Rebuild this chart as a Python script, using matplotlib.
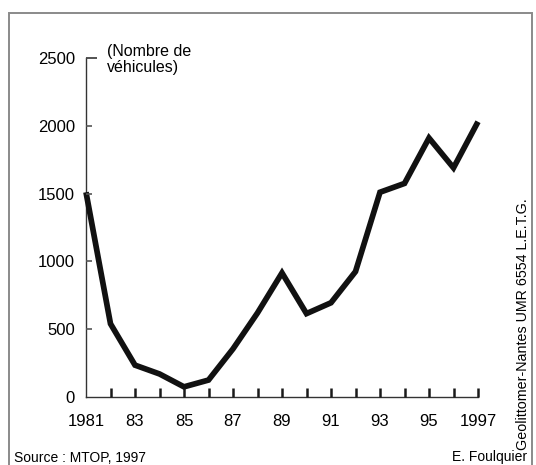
#!/usr/bin/env python
"""Nombre de vehicules, 1981-1997 (source MTOP, 1997)."""

import matplotlib

matplotlib.use("Agg")
import matplotlib.pyplot as plt
from matplotlib.patches import Rectangle

years = [1981, 1982, 1983, 1984, 1985, 1986, 1987, 1988, 1989,
         1990, 1991, 1992, 1993, 1994, 1995, 1996, 1997]
vehicles = [1510, 540, 235, 170, 75, 125, 355, 620, 915,
            615, 695, 925, 1510, 1575, 1910, 1690, 2030]
x_labels = ["1981", "83", "85", "87", "89", "91", "93", "95", "1997"]
y_ticks = [0, 500, 1000, 1500, 2000, 2500]

W, H = 536, 465
plt.rcParams["font.family"] = ["Liberation Sans", "DejaVu Sans"]

fig = plt.figure(figsize=(W / 100, H / 100), dpi=100, facecolor="white")

# scanned page frame
fig.patches.append(Rectangle((9 / W, -0.02), (532 - 9) / W, 1 - 13 / H + 0.02,
                             transform=fig.transFigure, fill=False,
                             edgecolor="#8a8a8a", linewidth=1.4))

ax = fig.add_axes([86 / W, 1 - 397 / H, (478 - 86) / W, (397 - 58) / H])
ax.plot(years, vehicles, color="#111111", linewidth=4.1,
        solid_joinstyle="miter", solid_capstyle="butt", clip_on=False,
        zorder=3)

ax.set_xlim(1981, 1997)
ax.set_ylim(0, 2500)
for side in ("top", "right"):
    ax.spines[side].set_visible(False)
for side in ("left", "bottom"):
    ax.spines[side].set_color("#333333")
    ax.spines[side].set_linewidth(1.0)

ax.set_xticks(years[::2], labels=x_labels)
ax.set_yticks(y_ticks)
ax.tick_params(axis="both", which="both", length=0)
ax.tick_params(axis="x", pad=12, labelsize=12)
ax.tick_params(axis="y", pad=8, labelsize=12)

# inward tick marks, drawn on the axis transforms
xtr = ax.get_xaxis_transform()
ytr = ax.get_yaxis_transform()
ax.vlines(years[1:], 0, 0.026, transform=xtr, colors="#1a1a1a",
          linewidth=1.8, clip_on=False, zorder=4)
ax.hlines(y_ticks[1:-1], 0, 0.016, transform=ytr, colors="#555555",
          linewidth=1.2, clip_on=False, zorder=4)
ax.hlines(y_ticks[-1:], 0, 0.028, transform=ytr, colors="#444444",
          linewidth=1.3, clip_on=False, zorder=4)

fig.text(107 / W, 1 - 44 / H, "(Nombre de\nvéhicules)", fontsize=11.5,
         va="top", ha="left", linespacing=1.1)
fig.text(14 / W, 1 - 451 / H, "Source : MTOP, 1997", fontsize=10,
         va="top", ha="left")
fig.text(527 / W, 1 - 450 / H, "E. Foulquier", fontsize=10,
         va="top", ha="right")
fig.text(523 / W, 1 - 450 / H, "Geolittomer-Nantes UMR 6554 L.E.T.G.",
         fontsize=10.3, rotation=90, va="bottom", ha="center")

fig.savefig("out.png", dpi=100, facecolor="white")
